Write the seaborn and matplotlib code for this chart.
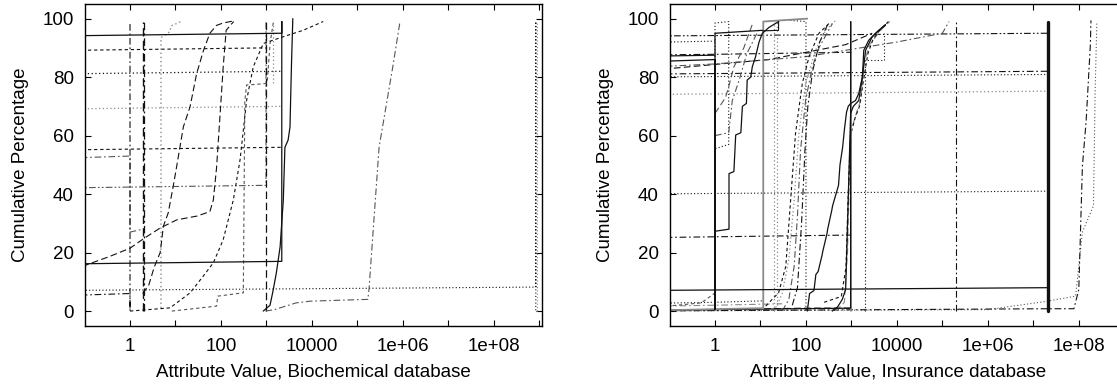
import matplotlib
matplotlib.use("Agg")
import matplotlib.pyplot as plt
from matplotlib.ticker import FixedLocator, FixedFormatter, NullFormatter
import seaborn as sns

sns.set_theme(style="ticks")
plt.rcParams["font.family"] = ["Liberation Sans", "DejaVu Sans"]

# ---------------------------------------------------------------- data
x_ticks = [1, 1e2, 1e4, 1e6, 1e8]
x_tick_labels = ["1", "100", "10000", "1e+06", "1e+08"]
x_minor = [10, 1e3, 1e5, 1e7, 1e9]
y_ticks = [0, 20, 40, 60, 80, 100]

# Biochemical database attributes
b_box_x = [0.01, 2175, 2175, 2175, 0.01]
b_box_y = [94, 95, 99, 17, 16]
b_steep_x = [850, 1200, 1400, 1650, 2000, 2350, 2550, 3000, 3300, 3400, 3550, 3800]
b_steep_y = [0, 2, 7, 13, 22, 38, 56, 58.5, 63, 72, 84, 100]
b_s1_x = [0.09, 0.36, 1, 2.1, 4.6, 10.7, 30, 57, 68, 80, 95, 112, 130, 190]
b_s1_y = [15.3, 18.7, 21.5, 25, 28.4, 31.2, 32.5, 34, 38, 49, 66.5, 83.5, 96, 99]
b_s2_x = [1.9, 2.6, 3.4, 4.6, 5.0, 5.4, 6.9, 8.9, 10.6, 14.9, 21, 29, 41, 57, 80, 112, 187]
b_s2_y = [6, 9, 15, 20, 24.4, 29, 33.5, 42.6, 49.4, 63, 70, 81, 89, 95, 97.7, 98.5, 99.2]
b_dot_x = [1, 7.6, 21, 41, 68, 112, 187, 263, 366, 513, 853, 2340, 6400, 17700]
b_dot_y = [0, 1.1, 6.25, 12, 16.5, 24.4, 38, 51.7, 72, 83.5, 91.5, 93.8, 96, 99]
b_step_x = [8.3, 80, 85, 310, 335, 366, 1000, 1050, 1200, 1410]
b_step_y = [0, 1.7, 5.1, 6.25, 72, 77.3, 77.8, 79, 91.5, 98.5]
b_far_x = [950, 1500, 4500, 9300, 1.7e5, 1.8e5, 3e5, 6e5, 8.7e5]
b_far_y = [0, 0.5, 2.8, 3.4, 4, 7.4, 56, 83.5, 99.2]
b_v1_x = [0.01, 1, 1, 1]
b_v1_y = [5, 6, 0, 99]
b_h52_x = [0.01, 1, 1, 1.9]
b_h52_y = [52, 53, 27, 28]
b_v2_x = [1.9, 1.9]
b_v2_y = [0, 99]
b_v2b_x = [2.0, 2.0]
b_v2b_y = [0, 99]
b_gv_x = [4.8, 4.8, 7.5, 8, 13.3]
b_gv_y = [1, 93.5, 95.5, 97.5, 99]
b_h89_x = [0.01, 1000]
b_h89_y = [89, 90]
b_v1000_x = [1000, 1000]
b_v1000_y = [0, 99]
b_h42_x = [0.01, 980, 980]
b_h42_y = [42, 43, 99]
b_h81_x = [0.01, 2150]
b_h81_y = [81, 82]
b_h69_x = [0.01, 2150]
b_h69_y = [69, 70]
b_h55_x = [0.01, 2150]
b_h55_y = [55, 56]
b_v1400_x = [1400, 1400]
b_v1400_y = [78, 99]
b_h7_x = [0.01, 8.4e8, 8.4e8, 8.4e8]
b_h7_y = [7, 8.2, 99, 0]
b_v9_x = [8.7e8, 8.7e8]
b_v9_y = [0, 99]

# Insurance database attributes
i_box1_x = [0.01, 1, 1, 1, 11]
i_box1_y = [85, 86, 0.5, 95, 96]
i_box1b_x = [0.01, 1]
i_box1b_y = [87, 87.5]
i_box2_x = [0.01, 11.5, 11.5, 107]
i_box2_y = [0, 1, 99, 100]
i_step_x = [1, 2.03, 2.03, 2.6, 2.85, 3.7, 4.0, 4.9, 5.1, 6.1, 6.6, 7.8, 9.3, 11, 15.4, 25]
i_step_y = [27.3, 28, 47, 47.7, 60.2, 61, 70, 71, 79, 80, 83.5, 87, 92, 95, 97, 99]
i_small_x = [11, 25, 25]
i_small_y = [95.8, 96, 99]
i_h7_x = [0.01, 2.1e7]
i_h7_y = [7, 8]
i_thick_x = [2.1e7, 2.1e7]
i_thick_y = [0, 99]
i_v960_x = [0.01, 960, 960]
i_v960_y = [0.2, 1, 99]
i_v980_x = [980, 980]
i_v980_y = [0, 99]
i_stair_x = [107, 120, 150, 165, 185, 225, 235, 290, 300, 370, 385, 520, 560, 640, 700,
             780, 850, 960, 1230, 1450, 1740, 1870, 2400, 3400, 4750, 5600]
i_stair_y = [0, 6, 7, 12.5, 13.5, 19, 20.5, 26.5, 28, 34.5, 36, 43, 50, 56, 62,
             68, 70, 71, 72, 74.4, 80, 89.2, 92.6, 95, 97, 98]
i_smooth_x = [380, 500, 630, 745, 810, 890, 960, 1100, 1450, 1740, 2050, 2870, 4000, 5600]
i_smooth_y = [0, 1.5, 4, 7.4, 26.7, 49.4, 67.6, 70, 72, 80, 89.2, 93.8, 96, 97.7]
i_sm2_x = [450, 700, 820, 900, 1000, 1300, 1600, 1900, 2500, 3500, 5000, 7000]
i_sm2_y = [0, 3, 20, 45, 62, 68, 72, 85, 91, 94, 97, 99]
i_sm3_x = [250, 600, 760, 850, 950, 1200, 1500, 1800, 2300, 3000, 4200, 6500]
i_sm3_y = [3, 5, 15, 40, 60, 66, 70, 78, 88, 93, 96, 99]
i_s1_x = [30, 42, 55, 65, 76, 98, 138, 193, 380]
i_s1_y = [0, 4, 15.3, 32.4, 55, 72, 83.5, 90, 98.3]
i_s2_x = [20, 30, 42, 55, 70, 98, 163, 270, 450]
i_s2_y = [0, 6, 17.6, 38, 60.8, 77.8, 89.2, 96, 99.4]
i_s3_x = [13, 25, 36, 46, 59, 83, 117, 193, 320]
i_s3_y = [1.7, 6.25, 15.3, 38, 60.8, 77.8, 87, 95, 98.3]
i_s4_x = [50, 65, 80, 95, 110, 140, 200, 300]
i_s4_y = [2, 8, 30, 55, 70, 82, 92, 98]
i_v20_x = [20, 20]
i_v20_y = [0, 99]
i_v23_x = [23, 23]
i_v23_y = [2, 99]
i_v100_x = [45, 100, 100]
i_v100_y = [99.4, 99, 0]
i_v2000_x = [2000, 2000, 5100, 5100]
i_v2000_y = [0, 86, 86, 95]
i_v2e5_x = [2e5, 2e5]
i_v2e5_y = [0, 99]
i_h95_x = [0.01, 2.1e7]
i_h95_y = [94, 95]
i_h92_x = [0.01, 1]
i_h92_y = [91.7, 92.3]
i_h88_x = [0.01, 1, 1000]
i_h88_y = [87.5, 87.8, 88.5]
i_h82_x = [0.01, 2.1e7]
i_h82_y = [81, 82]
i_h81_x = [0.01, 2.1e7]
i_h81_y = [80, 80.9]
i_h75_x = [0.01, 2.1e7]
i_h75_y = [74, 75.2]
i_h41_x = [0.01, 2.1e7]
i_h41_y = [40, 41]
i_h25_x = [0.01, 1000]
i_h25_y = [25, 26]
i_rise1_x = [0.01, 15, 745, 2870]
i_rise1_y = [81.5, 86, 91.1, 95]
i_rise2_x = [0.01, 1, 100, 1e4, 1e5, 1.4e5]
i_rise2_y = [83, 84.5, 87, 92, 95, 99]
i_b1_x = [0.01, 2.1e7, 7.8e7, 1e8, 1.2e8, 1.45e8, 1.8e8, 1.85e8]
i_b1_y = [0, 0.8, 0.8, 7.4, 49.5, 65, 91.4, 99.4]
i_b2_x = [0.01, 1e6, 1.9e7, 8.5e7, 1.2e8, 2.1e8, 2.3e8, 2.5e8]
i_b2_y = [0, 0.5, 3.3, 5.1, 27, 36, 77, 99]
i_b3_x = [0.01, 1, 100, 1000]
i_b3_y = [0, 0.5, 1, 1]
i_b4_x = [0.01, 1, 11.5]
i_b4_y = [2.5, 3, 3.5]
i_b5_x = [0.01, 1, 30]
i_b5_y = [1.5, 2, 2.5]
i_b6_x = [0.01, 0.5, 1]
i_b6_y = [0.3, 2.8, 6.2]
i_box3_x = [1, 1, 2.0, 2.0, 1]
i_box3_y = [55, 98.5, 99, 57, 55.5]
i_box4_x = [1, 1.7, 2.0, 2.6, 3.4, 4.3, 5.6, 6.6]
i_box4_y = [67.6, 73, 76.7, 83.5, 87, 90, 95, 98]
i_box5_x = [1, 2, 2.4, 3.4, 5, 9]
i_box5_y = [60, 61, 72, 79, 88, 96]

# ---------------------------------------------------------------- styles
SOLID = "-"
DASH = (0, (6, 3))
SDASH = (0, (3, 2.5))
DOT = (0, (1, 2))
DDOT = (0, (6, 2.5, 1.5, 2.5))
DDDOT = (0, (6, 2, 1.5, 2, 1.5, 2))
K = "#111111"
G1 = "#555555"
G2 = "#8a8a8a"

bio_lines = [
    (b_h7_x, b_h7_y, DOT, K, 0.8),
    (b_v9_x, b_v9_y, DOT, G2, 0.8),
    (b_h89_x, b_h89_y, SDASH, K, 0.8),
    (b_h81_x, b_h81_y, DOT, K, 0.9),
    (b_h69_x, b_h69_y, DOT, G2, 0.9),
    (b_h55_x, b_h55_y, SDASH, K, 0.8),
    (b_h42_x, b_h42_y, DDDOT, G1, 0.8),
    (b_h52_x, b_h52_y, DDOT, G1, 0.8),
    (b_v1_x, b_v1_y, DDOT, K, 0.8),
    (b_v2_x, b_v2_y, DASH, K, 1.0),
    (b_v2b_x, b_v2b_y, DDOT, K, 0.9),
    (b_gv_x, b_gv_y, DOT, G2, 1.0),
    (b_v1000_x, b_v1000_y, DASH, K, 0.9),
    (b_v1400_x, b_v1400_y, DOT, G2, 0.9),
    (b_far_x, b_far_y, DDOT, G1, 0.8),
    (b_step_x, b_step_y, SDASH, G1, 0.8),
    (b_dot_x, b_dot_y, SDASH, K, 0.8),
    (b_s2_x, b_s2_y, DASH, K, 0.8),
    (b_s1_x, b_s1_y, DASH, K, 0.8),
    (b_box_x, b_box_y, SOLID, K, 0.9),
    (b_steep_x, b_steep_y, SOLID, K, 0.9),
]

ins_lines = [
    (i_b2_x, i_b2_y, DOT, G1, 0.8),
    (i_b1_x, i_b1_y, DDOT, K, 0.8),
    (i_b3_x, i_b3_y, DASH, K, 0.8),
    (i_b4_x, i_b4_y, DOT, K, 0.8),
    (i_b5_x, i_b5_y, DDOT, G2, 0.8),
    (i_b6_x, i_b6_y, SDASH, G1, 0.8),
    (i_h95_x, i_h95_y, DDDOT, K, 0.8),
    (i_h92_x, i_h92_y, DOT, K, 0.8),
    (i_h88_x, i_h88_y, DDOT, K, 0.8),
    (i_h82_x, i_h82_y, DDOT, K, 0.8),
    (i_h81_x, i_h81_y, DOT, K, 0.8),
    (i_h75_x, i_h75_y, DOT, G2, 0.9),
    (i_h41_x, i_h41_y, DOT, K, 0.8),
    (i_h25_x, i_h25_y, DDOT, K, 0.8),
    (i_rise1_x, i_rise1_y, DASH, K, 0.8),
    (i_rise2_x, i_rise2_y, DDOT, G1, 0.8),
    (i_v20_x, i_v20_y, DOT, G2, 0.9),
    (i_v23_x, i_v23_y, DOT, G2, 0.9),
    (i_v100_x, i_v100_y, DOT, K, 0.8),
    (i_v2000_x, i_v2000_y, DOT, K, 0.8),
    (i_v2e5_x, i_v2e5_y, DDOT, K, 0.8),
    (i_box3_x, i_box3_y, DOT, K, 0.8),
    (i_box4_x, i_box4_y, DASH, G1, 0.8),
    (i_box5_x, i_box5_y, DDOT, G1, 0.8),
    (i_s2_x, i_s2_y, DOT, G2, 0.9),
    (i_s1_x, i_s1_y, DDOT, G1, 0.8),
    (i_s3_x, i_s3_y, SDASH, K, 0.8),
    (i_s4_x, i_s4_y, DDOT, K, 0.8),
    (i_sm2_x, i_sm2_y, DASH, G2, 0.8),
    (i_sm3_x, i_sm3_y, SDASH, K, 0.8),
    (i_v980_x, i_v980_y, SOLID, G2, 1.2),
    (i_v960_x, i_v960_y, SOLID, K, 0.9),
    (i_box2_x, i_box2_y, SOLID, G2, 1.3),
    (i_box1_x, i_box1_y, SOLID, K, 0.9),
    (i_box1b_x, i_box1b_y, SOLID, K, 0.9),
    (i_small_x, i_small_y, SOLID, K, 0.8),
    (i_step_x, i_step_y, SOLID, K, 0.9),
    (i_stair_x, i_stair_y, SOLID, K, 0.9),
    (i_smooth_x, i_smooth_y, SOLID, K, 0.9),
    (i_h7_x, i_h7_y, SOLID, K, 0.9),
    (i_thick_x, i_thick_y, SOLID, K, 2.4),
]

# ---------------------------------------------------------------- figure
W, H = 1117, 387
FS = 13.5
fig = plt.figure(figsize=(W / 100, H / 100), dpi=100, facecolor="white")
ax_w = 457 / W
ax_b = (H - 325.7) / H
ax_h = 321.7 / H
ax_bio = fig.add_axes([85 / W, ax_b, ax_w, ax_h])
ax_ins = fig.add_axes([670 / W, ax_b, ax_w, ax_h])


def draw_panel(ax, lines, xlabel):
    ax.set_xscale("log")
    for xs, ys, ls, col, lw in lines:
        sns.lineplot(x=xs, y=ys, ax=ax, sort=False, estimator=None,
                     color=col, linewidth=lw, linestyle=ls, legend=False)
    ax.set_xlim(10 ** -0.99, 10 ** 9.06)
    ax.set_ylim(-5, 105)
    ax.xaxis.set_major_locator(FixedLocator(x_ticks))
    ax.xaxis.set_major_formatter(FixedFormatter(x_tick_labels))
    ax.xaxis.set_minor_locator(FixedLocator(x_minor))
    ax.xaxis.set_minor_formatter(NullFormatter())
    ax.yaxis.set_major_locator(FixedLocator(y_ticks))
    ax.yaxis.set_minor_locator(FixedLocator([]))
    ax.tick_params(which="both", direction="in", top=True, right=True,
                   length=4.5, width=0.8, color="black", labelsize=FS, colors="black")
    ax.tick_params(axis="x", which="major", pad=9)
    ax.tick_params(axis="y", which="major", pad=8)
    for sp in ax.spines.values():
        sp.set_visible(True)
        sp.set_linewidth(1.0)
        sp.set_color("black")
    ax.set_xlabel(xlabel, fontsize=FS, labelpad=6, color="black")
    ax.set_ylabel("Cumulative Percentage", fontsize=FS, labelpad=10, color="black")
    ax.set_facecolor("white")


draw_panel(ax_bio, bio_lines, "Attribute Value, Biochemical database")
draw_panel(ax_ins, ins_lines, "Attribute Value, Insurance database")

fig.savefig("out.png", dpi=100, facecolor="white")
